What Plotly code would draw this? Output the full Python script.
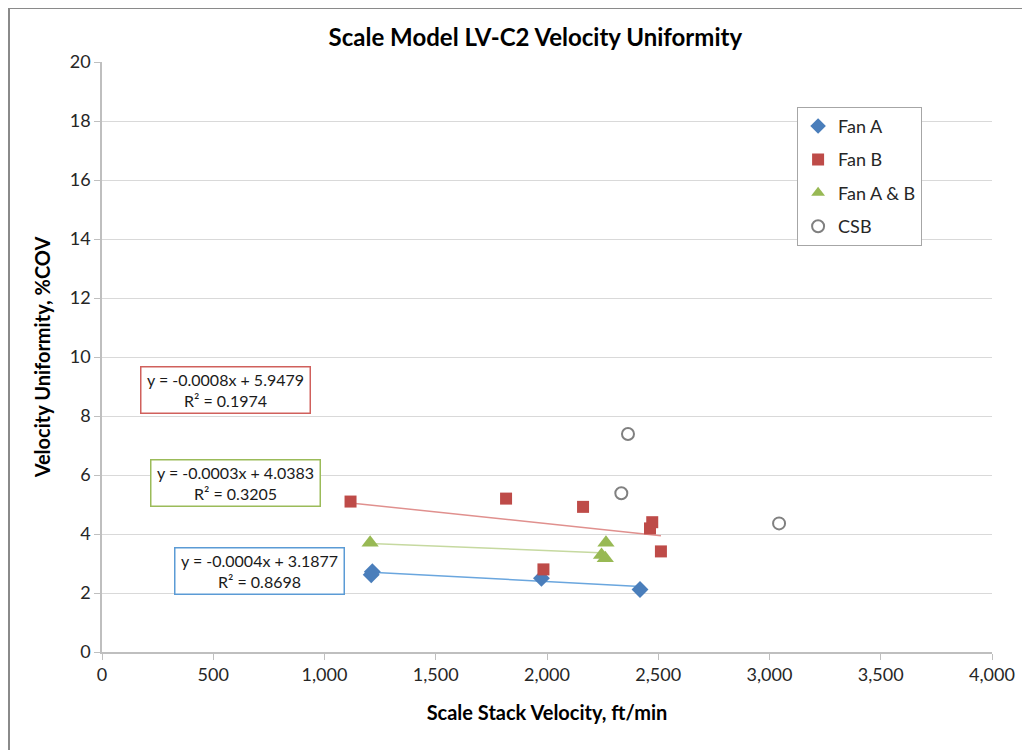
import plotly.graph_objects as go

# data
fan_a_x = [1210, 1215, 1975, 2418]
fan_a_y = [2.62, 2.72, 2.50, 2.12]

fan_b_x = [1117, 1816, 1984, 2162, 2463, 2473, 2512]
fan_b_y = [5.10, 5.20, 2.80, 4.92, 4.19, 4.40, 3.41]

fan_ab_x = [1205, 2245, 2262, 2265]
fan_ab_y = [3.70, 3.29, 3.18, 3.70]

csb_x = [2334, 2364, 3043]
csb_y = [5.38, 7.39, 4.36]

# trendline coefficients as printed on the chart
trend_names = ["Fan A", "Fan B", "Fan A & B"]
trend_slope = [-0.0004, -0.0008, -0.0003]
trend_icpt = [3.1877, 5.9479, 4.0383]
trend_r2 = [0.8698, 0.1974, 0.3205]

x_ticks = [0, 500, 1000, 1500, 2000, 2500, 3000, 3500, 4000]
y_ticks = [0, 2, 4, 6, 8, 10, 12, 14, 16, 18, 20]

FONT = "Lato"
BLUE, RED, GREEN, GRAY = "#4A7EBB", "#BE4B48", "#98B954", "#808080"
TREND = {"Fan A": "#6AA6DE", "Fan B": "#E0908E", "Fan A & B": "#C6D9A0"}
BOX = {"Fan A": "#5B9BD5", "Fan B": "#D0605C", "Fan A & B": "#9BBB59"}

fig = go.Figure()

series = [
    ("Fan A", fan_a_x, fan_a_y, dict(symbol="diamond", size=13, color=BLUE)),
    ("Fan B", fan_b_x, fan_b_y, dict(symbol="square", size=12, color=RED)),
    ("Fan A & B", fan_ab_x, fan_ab_y, dict(symbol="triangle-up", size=15, color=GREEN)),
    ("CSB", csb_x, csb_y, dict(symbol="circle-open", size=12, color=GRAY, line=dict(width=2))),
]

# trendlines first, so markers sit on top
src = {s[0]: s[1] for s in series}
for name, m, b in zip(trend_names, trend_slope, trend_icpt):
    xs = [min(src[name]), max(src[name])]
    fig.add_scatter(x=xs, y=[m * v + b for v in xs], mode="lines",
                    line=dict(color=TREND[name], width=1.5), showlegend=False, hoverinfo="skip")

for name, xs, ys, mk in series:
    fig.add_scatter(x=xs, y=ys, mode="markers", name=name, marker=mk, legendgroup=name)

# trendline equation boxes (x, y in data units)
box_pos = {"Fan B": (553, 8.88), "Fan A & B": (598, 5.73), "Fan A": (710, 2.75)}
for name, m, b, r2 in zip(trend_names, trend_slope, trend_icpt, trend_r2):
    bx, by = box_pos[name]
    fig.add_annotation(
        x=bx, y=by, xref="x", yref="y", showarrow=False,
        text=f"y = {m:.4f}x + {b:.4f}<br>R² = {r2:.4f}",
        font=dict(family=FONT, size=16, color="#1a1a1a"),
        bordercolor=BOX[name], borderwidth=1.5, bgcolor="white", borderpad=1,
        width=166, height=43, align="center",
    )

# outer chart frame
fig.add_shape(type="rect", xref="paper", yref="paper", x0=-0.1045, y0=-0.3, x1=1.2, y1=1.0915,
              line=dict(color="#8a8a8a", width=2), layer="below")

# note: page body has an 8px margin, margins below account for it
fig.update_layout(
    width=1030, height=750,
    margin=dict(l=94, r=46, t=54, b=106),
    paper_bgcolor="white", plot_bgcolor="white",
    font=dict(family=FONT, size=18, color="#262626"),
    title=dict(text="<b>Scale Model LV-C2 Velocity Uniformity</b>", x=0.512, xanchor="center",
               y=0.961, yanchor="middle", font=dict(size=24, color="#000000")),
    legend=dict(x=0.781, y=0.924, xanchor="left", yanchor="top", bgcolor="white",
                bordercolor="#A6A6A6", borderwidth=1, font=dict(size=18),
                itemsizing="constant", itemwidth=30, tracegroupgap=7),
    xaxis=dict(range=[0, 4000], tickvals=x_ticks, tickformat=",d", showgrid=False,
               showline=True, linecolor="#BFBFBF", linewidth=1.5, ticks="outside", ticklen=6,
               tickcolor="#BFBFBF", zeroline=False,
               title=dict(text="<b>Scale Stack Velocity, ft/min</b>", font=dict(size=20, color="#000"),
                          standoff=22)),
    yaxis=dict(range=[0, 20], tickvals=y_ticks, showgrid=True, gridcolor="#D9D9D9", gridwidth=1,
               showline=True, linecolor="#BFBFBF", linewidth=1.5, ticks="outside", ticklen=6,
               tickcolor="#BFBFBF", zeroline=False,
               title=dict(text="<b>Velocity Uniformity, %COV</b>", font=dict(size=20, color="#000"),
                          standoff=14)),
)

fig.write_html("out.html")
